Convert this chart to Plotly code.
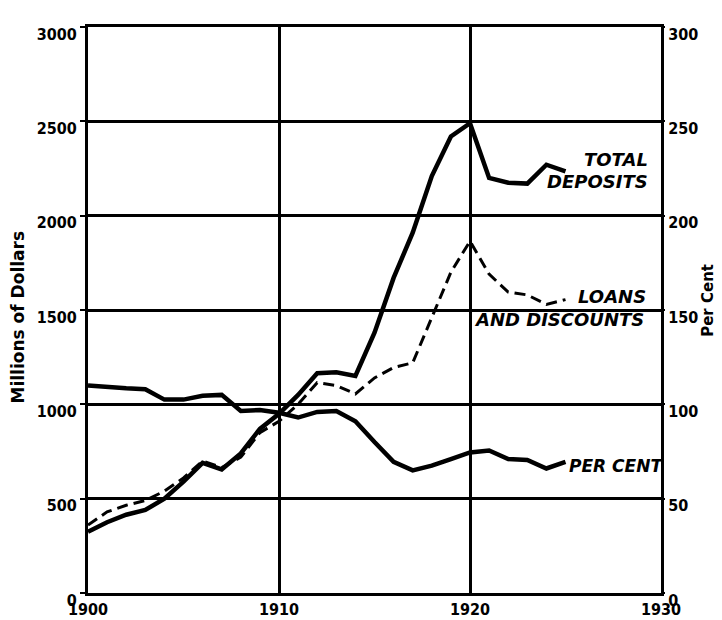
import plotly.graph_objects as go

years = list(range(1900, 1926))
total_deposits = [325, 375, 415, 440, 500, 590, 690, 655, 740, 870, 950, 1050, 1165, 1170, 1150,
                  1380, 1670, 1910, 2210, 2420, 2490, 2200, 2175, 2170, 2270, 2235]
loans_discounts = [360, 430, 465, 490, 540, 610, 700, 665, 720, 850, 910, 1000, 1115, 1100, 1055,
                   1140, 1195, 1220, 1460, 1700, 1865, 1690, 1595, 1580, 1530, 1555]
per_cent = [110, 109, 108.5, 108, 102.5, 102.5, 104.5, 105, 96.5, 97, 95.5, 93, 96, 96.5, 91,
            80, 69.5, 65, 67.5, 71, 74.5, 75.5, 71, 70.5, 66, 69.5]

x_ticks = [1900, 1910, 1920, 1930]
left_ticks = [0, 500, 1000, 1500, 2000, 2500, 3000]
right_ticks = [0, 50, 100, 150, 200, 250, 300]

FONT = "DejaVu Sans Condensed, DejaVu Sans, sans-serif"
FONT2 = "DejaVu Sans, sans-serif"

fig = go.Figure()
fig.add_trace(go.Scatter(x=years, y=total_deposits, mode="lines",
                         line=dict(color="black", width=4.5), name="Total Deposits"))
fig.add_trace(go.Scatter(x=years, y=loans_discounts, mode="lines",
                         line=dict(color="black", width=3, dash="11px,6px"), name="Loans and Discounts"))
fig.add_trace(go.Scatter(x=years, y=per_cent, mode="lines", yaxis="y2",
                         line=dict(color="black", width=4.5), name="Per Cent"))

tickfont = dict(family=FONT, size=16, color="black", weight="bold")
lab = dict(family=FONT2, size=18, color="black", weight="bold", style="italic")

fig.update_layout(
    width=722, height=620, autosize=False,
    margin=dict(l=88, r=61, t=27, b=27),
    paper_bgcolor="white", plot_bgcolor="white",
    showlegend=False,
    xaxis=dict(range=[1900, 1930], tickvals=x_ticks, ticktext=[str(v) for v in x_ticks],
               showgrid=True, gridcolor="black", gridwidth=2.5, zeroline=False,
               showline=True, linecolor="black", linewidth=3, mirror=True,
               ticks="", ticklabelstandoff=0, tickfont=tickfont, automargin=False),
    yaxis=dict(range=[0, 3000], tickvals=left_ticks, ticktext=[str(v) for v in left_ticks],
               showgrid=True, gridcolor="black", gridwidth=2.5, zeroline=False,
               showline=True, linecolor="black", linewidth=3, mirror=True,
               ticks="outside", ticklen=5, tickwidth=2, tickcolor="black",
               ticklabelshift=7, tickfont=tickfont, automargin=False),
    yaxis2=dict(range=[0, 300], tickvals=right_ticks, ticktext=[str(v) for v in right_ticks],
                overlaying="y", side="right", showgrid=False, zeroline=False,
                showline=False, ticks="outside", ticklen=3, tickwidth=2, tickcolor="black",
                ticklabelshift=7, tickfont=tickfont, automargin=False),
)

# axis titles (paper coordinates)
fig.add_annotation(x=-0.122, y=0.487, xref="paper", yref="paper", text="Millions of Dollars",
                   showarrow=False, textangle=-90, xanchor="center", yanchor="middle",
                   font=dict(family=FONT2, size=17, color="black", weight="bold"))
fig.add_annotation(x=1.082, y=0.518, xref="paper", yref="paper", text="Per Cent",
                   showarrow=False, textangle=-90, xanchor="center", yanchor="middle",
                   font=dict(family=FONT2, size=15, color="black", weight="bold"))

fig.add_annotation(x=1929.4, y=2300, xref="x", yref="y", text="TOTAL", showarrow=False,
                   xanchor="right", yanchor="middle", font=lab)
fig.add_annotation(x=1929.4, y=2180, xref="x", yref="y", text="DEPOSITS", showarrow=False,
                   xanchor="right", yanchor="middle", font=lab)
fig.add_annotation(x=1929.3, y=1570, xref="x", yref="y", text="LOANS", showarrow=False,
                   xanchor="right", yanchor="middle", font=lab)
fig.add_annotation(x=1929.2, y=1452, xref="x", yref="y", text="AND DISCOUNTS", showarrow=False,
                   xanchor="right", yanchor="middle", font=lab)
fig.add_annotation(x=1925.1, y=673, xref="x", yref="y", text="PER CENT", showarrow=False,
                   xanchor="left", yanchor="middle",
                   font=dict(family=FONT2, size=17, color="black", weight="bold", style="italic"))

fig.write_html("out.html", config={"displayModeBar": False},
               post_script="document.body.style.margin='0';document.body.style.overflow='hidden';")
